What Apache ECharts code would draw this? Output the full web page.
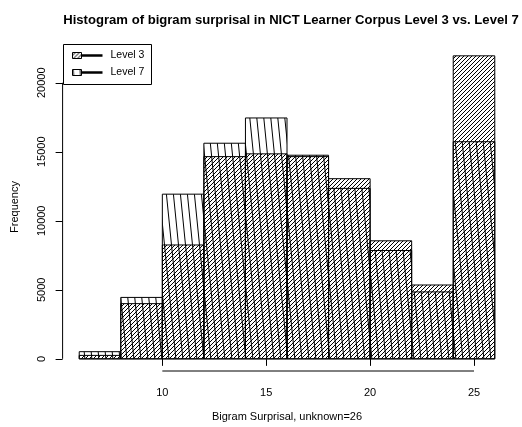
<!DOCTYPE html>
<html>
<head>
<meta charset="utf-8">
<script src="https://cdn.jsdelivr.net/npm/echarts@6/dist/echarts.min.js"></script>
<style>
  html, body { margin: 0; padding: 0; background: #fff; }
  #main { width: 522px; height: 427px; }
</style>
</head>
<body>
<div id="main"></div>
<script>
// bin edges of the histogram, 2 units wide
var binEdges = [6, 8, 10, 12, 14, 16, 18, 20, 22, 24, 26];
// counts per bin
var level3 = [250, 4000, 8250, 14650, 14850, 14650, 13050, 8550, 5350, 21950];
var level7 = [520, 4450, 11930, 15620, 17450, 14750, 12350, 7850, 4850, 15730];
// tick labels
var xTicks = [10, 15, 20, 25];
var yTicks = [0, 5000, 10000, 15000, 20000];

var FONT = 'Liberation Sans';

// hatching like R's density lines
function diagPattern(size) {
  var c = document.createElement('canvas');
  c.width = size; c.height = size;
  var g = c.getContext('2d');
  g.strokeStyle = '#000';
  g.lineWidth = 1;
  g.beginPath();
  g.moveTo(-1, size + 1); g.lineTo(size + 1, -1);
  g.moveTo(-size - 1, size + 1); g.lineTo(1, -1);
  g.moveTo(size - 1, size + 1); g.lineTo(2 * size + 1, -1);
  g.stroke();
  return c;
}
function vertPattern(w, h) {
  var c = document.createElement('canvas');
  c.width = w; c.height = h;
  var g = c.getContext('2d');
  g.strokeStyle = '#000';
  g.lineWidth = 1;
  g.beginPath();
  for (var k = -1; k <= 1; k++) {
    g.moveTo(k * w, 0); g.lineTo(k * w + w, h);
  }
  g.stroke();
  return c;
}
var fill3 = { image: diagPattern(4), repeat: 'repeat' };
var fill7 = { image: vertPattern(7, 70), repeat: 'repeat' };

function toBins(vals) {
  return vals.map(function (v, i) { return [binEdges[i], binEdges[i + 1], v]; });
}

function histItem(fill) {
  return function (params, api) {
    var p0 = api.coord([api.value(0), api.value(2)]);
    var p1 = api.coord([api.value(1), 0]);
    return {
      type: 'rect',
      shape: { x: p0[0], y: p0[1], width: p1[0] - p0[0], height: p1[1] - p0[1] },
      style: { fill: fill, stroke: '#000', lineWidth: 1 }
    };
  };
}

var xMin = 5.2, xMax = 26.8, yMin = -880, yMax = 22880;

var chart = echarts.init(document.getElementById('main'), null, { renderer: 'canvas' });

var option = {
  backgroundColor: '#fff',
  animation: false,
  title: {
    text: 'Histogram of bigram surprisal in NICT Learner Corpus Level 3 vs. Level 7',
    left: 286,
    top: 9,
    textAlign: 'center',
    textStyle: { fontFamily: FONT, fontWeight: 'bold', fontSize: 13.1, color: '#000' }
  },
  grid: { left: 62.6, right: 10.6, top: 43, bottom: 51.7, containLabel: false },
  xAxis: {
    type: 'value', min: xMin, max: xMax,
    name: 'Bigram Surprisal, unknown=26',
    nameLocation: 'middle', nameGap: 40,
    nameTextStyle: { fontFamily: FONT, fontSize: 11, color: '#000' },
    axisLine: { show: false },
    splitLine: { show: false },
    axisTick: { show: true, inside: false, length: 7, customValues: xTicks, lineStyle: { color: '#000' } },
    axisLabel: { customValues: xTicks, margin: 16, fontFamily: FONT, fontSize: 11, color: '#000' }
  },
  yAxis: {
    type: 'value', min: yMin, max: yMax,
    name: 'Frequency',
    nameLocation: 'middle', nameGap: 42,
    nameTextStyle: { fontFamily: FONT, fontSize: 11, color: '#000' },
    axisLine: { show: false },
    splitLine: { show: false },
    axisTick: { show: true, inside: false, length: 7, customValues: yTicks, lineStyle: { color: '#000' } },
    axisLabel: {
      customValues: yTicks, rotate: 90, margin: 15, fontFamily: FONT, fontSize: 11, color: '#000',
      formatter: function (v) { return String(v); }
    }
  },
  graphic: [
    {
      type: 'group', left: 63, top: 44,
      children: [
        { type: 'rect', shape: { x: 0, y: 0, width: 88, height: 40 }, style: { fill: '#fff', stroke: '#000', lineWidth: 1 } },
        { type: 'rect', shape: { x: 9, y: 8, width: 9, height: 6 }, style: { fill: fill3, stroke: '#000', lineWidth: 1 } },
        { type: 'line', shape: { x1: 18, y1: 11, x2: 39, y2: 11 }, style: { stroke: '#000', lineWidth: 2.5 } },
        { type: 'text', x: 47, y: 11, style: { text: 'Level 3', font: '10.5px ' + FONT, fill: '#000', textVerticalAlign: 'middle' } },
        { type: 'rect', shape: { x: 9, y: 25, width: 9, height: 6 }, style: { fill: fill7, stroke: '#000', lineWidth: 1 } },
        { type: 'line', shape: { x1: 18, y1: 28, x2: 39, y2: 28 }, style: { stroke: '#000', lineWidth: 2.5 } },
        { type: 'text', x: 47, y: 28, style: { text: 'Level 7', font: '10.5px ' + FONT, fill: '#000', textVerticalAlign: 'middle' } }
      ]
    }
  ],
  series: [
    {
      name: 'Level 3', type: 'custom', renderItem: histItem(fill3),
      encode: { x: [0, 1], y: 2 }, data: toBins(level3), z: 2
    },
    {
      name: 'Level 7', type: 'custom', renderItem: histItem(fill7),
      encode: { x: [0, 1], y: 2 }, data: toBins(level7), z: 3
    },
    {
      // R style axis lines: only from first to last tick
      name: 'axes', type: 'custom', silent: true, z: 4,
      data: [[0]],
      renderItem: function (params, api) {
        var a = api.coord([xTicks[0], yMin]), b = api.coord([xTicks[xTicks.length - 1], yMin]);
        var c = api.coord([xMin, yTicks[0]]), d = api.coord([xMin, yTicks[yTicks.length - 1]]);
        return {
          type: 'group',
          children: [
            { type: 'line', shape: { x1: a[0], y1: a[1], x2: b[0], y2: b[1] }, style: { stroke: '#000', lineWidth: 1 } },
            { type: 'line', shape: { x1: c[0], y1: c[1], x2: d[0], y2: d[1] }, style: { stroke: '#000', lineWidth: 1 } }
          ]
        };
      }
    }
  ]
};

chart.setOption(option);
</script>
</body>
</html>
